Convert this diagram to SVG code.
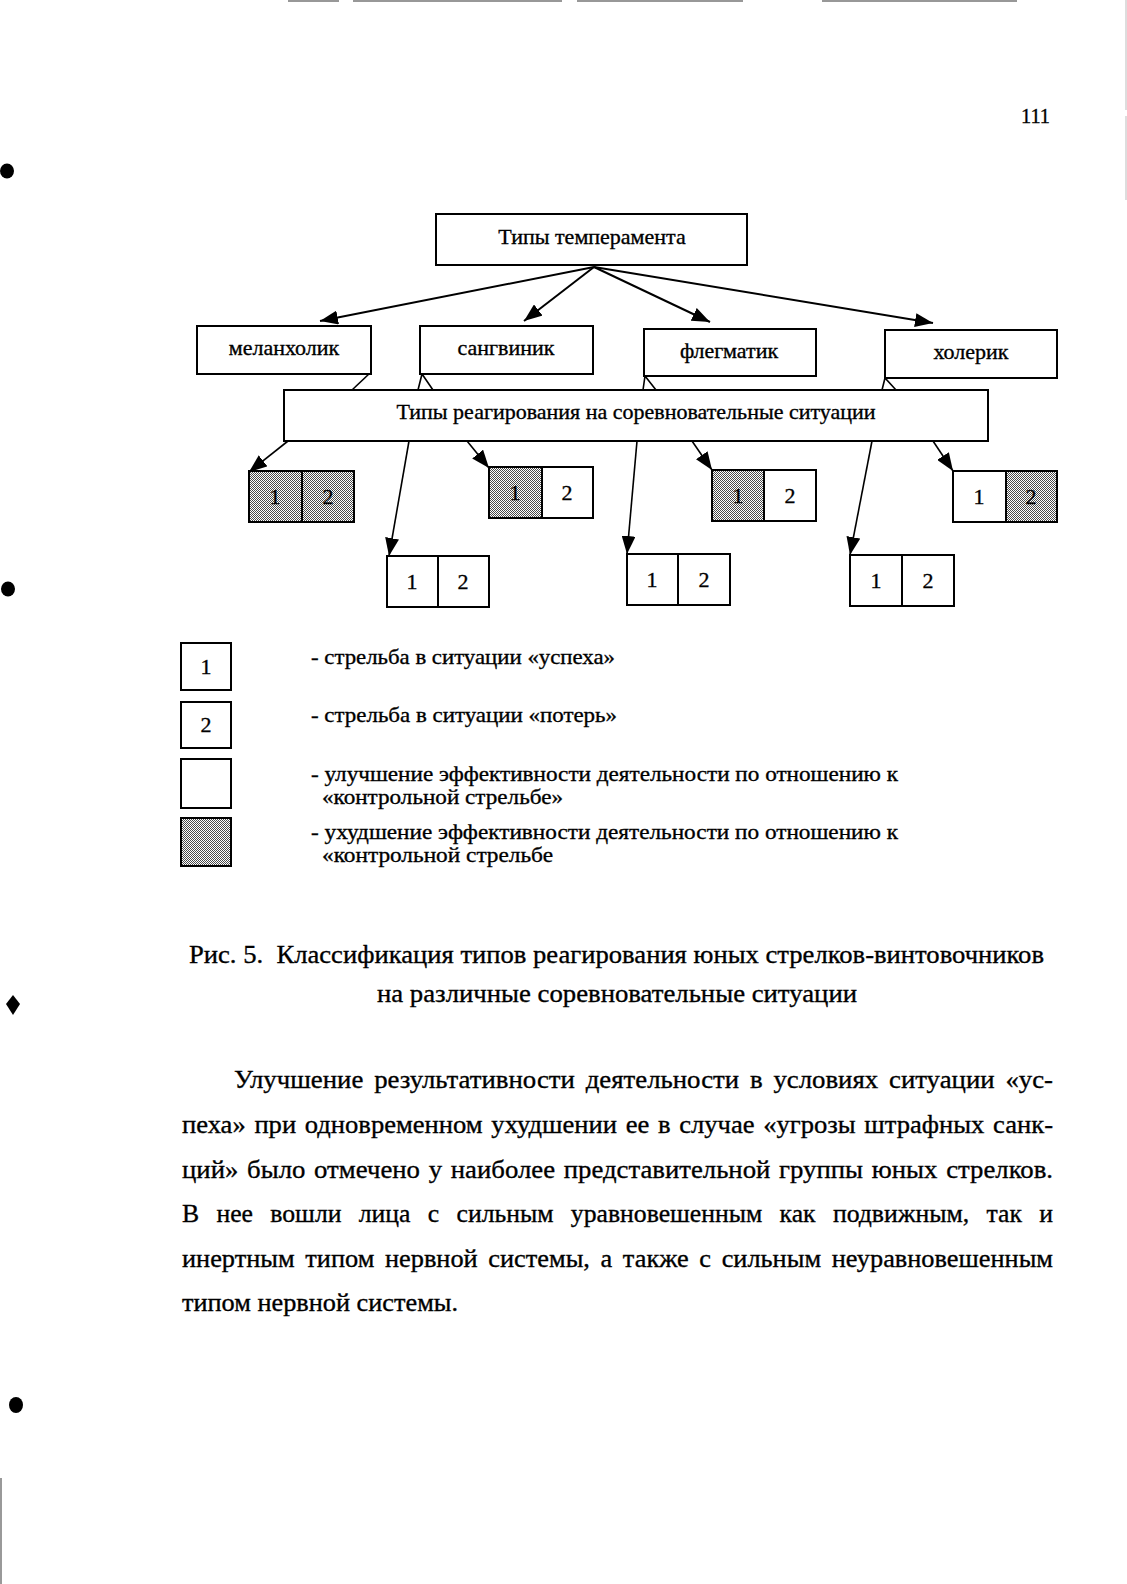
<svg xmlns="http://www.w3.org/2000/svg" width="1127" height="1584" viewBox="0 0 1127 1584">
<style>
text{font-family:"Liberation Serif","Times New Roman",serif;fill:#000;stroke:#000;stroke-width:0.35}
.lbl{font-size:22px;text-anchor:middle}
.num{font-size:22px;text-anchor:middle}
.leg{font-size:22px}
.body{font-size:26px}
.box{fill:#fff;stroke:#000;stroke-width:2}
.cell{fill:none;stroke:#000;stroke-width:2}
.shade{fill:url(#dots)}
.conn{stroke:#000;stroke-width:2;fill:none}
.thin{stroke:#000;stroke-width:1.6;fill:none}
.art{stroke:#777;stroke-width:1.5;fill:none}
</style>
<defs>
<pattern id="dots" width="2" height="2" patternUnits="userSpaceOnUse">
<rect width="2" height="2" fill="#fff"/>
<rect width="1" height="1" fill="#4a4a4a"/>
<rect x="1" y="1" width="1" height="1" fill="#4a4a4a"/>
</pattern>
<marker id="ah" viewBox="0 0 18 14" refX="18" refY="7" markerWidth="18" markerHeight="14" markerUnits="userSpaceOnUse" orient="auto">
<path d="M0,0 L18,7 L0,14 z" fill="#000"/>
</marker>
</defs>
<rect width="1127" height="1584" fill="#fff"/>

<g id="scan-artifacts">
<path class="art" d="M288,1 H339 M353,1 H562 M577,1 H743 M822,1 H1017"/>
<path d="M1126,0 V110 M1126,116 V200" stroke="#bbb" stroke-width="1" fill="none"/>
<path class="art" d="M1,1478 V1584"/>
<ellipse cx="7" cy="171" rx="7" ry="7.5" fill="#000"/>
<ellipse cx="8" cy="589" rx="7" ry="7.5" fill="#000"/>
<path d="M13,995 L20,1004 L13,1015 L6,1004 z" fill="#000"/>
<ellipse cx="16" cy="1405" rx="7" ry="8" fill="#000"/>
</g>

<g id="page-number">
<text x="1021" y="123" style="font-size:22px" textLength="29" lengthAdjust="spacingAndGlyphs">111</text>
</g>

<g id="connectors">
<line class="conn" x1="594" y1="267" x2="320" y2="321" marker-end="url(#ah)"/>
<line class="conn" x1="594" y1="267" x2="524" y2="321" marker-end="url(#ah)"/>
<line class="conn" x1="594" y1="267" x2="710" y2="322" marker-end="url(#ah)"/>
<line class="conn" x1="594" y1="267" x2="933" y2="323" marker-end="url(#ah)"/>
<polyline class="thin" points="370,373 352,390"/>
<polyline class="thin" points="418,390 422,374 433,390"/>
<polyline class="thin" points="643,390 645,376 656,390"/>
<polyline class="thin" points="882,390 885,378 896,390"/>
<line class="thin" x1="288" y1="441" x2="249" y2="472" marker-end="url(#ah)"/>
<line class="thin" x1="409" y1="441" x2="389" y2="556" marker-end="url(#ah)"/>
<line class="thin" x1="467" y1="441" x2="489" y2="468" marker-end="url(#ah)"/>
<line class="thin" x1="637" y1="441" x2="627" y2="554" marker-end="url(#ah)"/>
<line class="thin" x1="692" y1="441" x2="712" y2="470" marker-end="url(#ah)"/>
<line class="thin" x1="872" y1="441" x2="850" y2="555" marker-end="url(#ah)"/>
<line class="thin" x1="933" y1="441" x2="953" y2="471" marker-end="url(#ah)"/>
</g>

<g id="node-types">
<rect class="box" x="436" y="214" width="311" height="51"/>
<text class="lbl" x="592" y="244">Типы темперамента</text>
</g>
<g id="node-melancholic">
<rect class="box" x="197" y="326" width="174" height="48"/>
<text class="lbl" x="284" y="355">меланхолик</text>
</g>
<g id="node-sanguine">
<rect class="box" x="420" y="326" width="173" height="48"/>
<text class="lbl" x="506" y="355">сангвиник</text>
</g>
<g id="node-phlegmatic">
<rect class="box" x="644" y="329" width="172" height="47"/>
<text class="lbl" x="729" y="358">флегматик</text>
</g>
<g id="node-choleric">
<rect class="box" x="885" y="330" width="172" height="48"/>
<text class="lbl" x="971" y="359">холерик</text>
</g>
<g id="node-reactions">
<rect class="box" x="284" y="390" width="704" height="51"/>
<text class="lbl" x="636" y="419">Типы реагирования на соревновательные ситуации</text>
</g>

<g id="node-r1">
<rect class="shade" x="249" y="471" width="105" height="51"/>
<rect class="cell" x="249" y="471" width="105" height="51"/>
<line class="cell" x1="302" y1="471" x2="302" y2="522"/>
<text class="num" x="275" y="504">1</text><text class="num" x="328" y="504">2</text>
</g>
<g id="node-r2">
<rect class="shade" x="489" y="467" width="53" height="51"/>
<rect class="cell" x="489" y="467" width="104" height="51"/>
<line class="cell" x1="542" y1="467" x2="542" y2="518"/>
<text class="num" x="515" y="500">1</text><text class="num" x="567" y="500">2</text>
</g>
<g id="node-r3">
<rect class="shade" x="712" y="470" width="52" height="51"/>
<rect class="cell" x="712" y="470" width="104" height="51"/>
<line class="cell" x1="764" y1="470" x2="764" y2="521"/>
<text class="num" x="738" y="503">1</text><text class="num" x="790" y="503">2</text>
</g>
<g id="node-r4">
<rect class="shade" x="1006" y="471" width="51" height="51"/>
<rect class="cell" x="953" y="471" width="104" height="51"/>
<line class="cell" x1="1006" y1="471" x2="1006" y2="522"/>
<text class="num" x="979" y="504">1</text><text class="num" x="1031" y="504">2</text>
</g>
<g id="node-r5">
<rect class="cell" x="387" y="556" width="102" height="51"/>
<line class="cell" x1="438" y1="556" x2="438" y2="607"/>
<text class="num" x="412" y="589">1</text><text class="num" x="463" y="589">2</text>
</g>
<g id="node-r6">
<rect class="cell" x="627" y="554" width="103" height="51"/>
<line class="cell" x1="678" y1="554" x2="678" y2="605"/>
<text class="num" x="652" y="587">1</text><text class="num" x="704" y="587">2</text>
</g>
<g id="node-r7">
<rect class="cell" x="850" y="555" width="104" height="51"/>
<line class="cell" x1="902" y1="555" x2="902" y2="606"/>
<text class="num" x="876" y="588">1</text><text class="num" x="928" y="588">2</text>
</g>

<g id="legend">
<rect class="cell" x="181" y="643" width="50" height="47"/>
<text class="num" x="206" y="674">1</text>
<rect class="cell" x="181" y="702" width="50" height="46"/>
<text class="num" x="206" y="732">2</text>
<rect class="cell" x="181" y="759" width="50" height="49"/>
<rect class="shade" x="181" y="818" width="50" height="48"/>
<rect class="cell" x="181" y="818" width="50" height="48"/>
<text class="leg" x="311" y="664" textLength="304" lengthAdjust="spacingAndGlyphs">- стрельба в ситуации «успеха»</text>
<text class="leg" x="311" y="722" textLength="306" lengthAdjust="spacingAndGlyphs">- стрельба в ситуации «потерь»</text>
<text class="leg" x="311" y="781" textLength="587" lengthAdjust="spacingAndGlyphs">- улучшение эффективности деятельности по отношению к</text>
<text class="leg" x="322" y="804" textLength="241" lengthAdjust="spacingAndGlyphs">«контрольной стрельбе»</text>
<text class="leg" x="311" y="839" textLength="587" lengthAdjust="spacingAndGlyphs">- ухудшение эффективности деятельности по отношению к</text>
<text class="leg" x="322" y="862" textLength="231" lengthAdjust="spacingAndGlyphs">«контрольной стрельбе</text>
</g>

<g id="caption">
<text class="body" x="189" y="963" style="white-space:pre" textLength="855" lengthAdjust="spacingAndGlyphs">Рис. 5.  Классификация типов реагирования юных стрелков-винтовочников</text>
<text class="body" x="377" y="1002" textLength="480" lengthAdjust="spacingAndGlyphs">на различные соревновательные ситуации</text>
</g>

<g id="body-text">
<text class="body" x="234" y="1088" word-spacing="4" textLength="819" lengthAdjust="spacingAndGlyphs">Улучшение результативности деятельности в условиях ситуации «ус-</text>
<text class="body" x="182" y="1133" word-spacing="2" textLength="871" lengthAdjust="spacingAndGlyphs">пеха» при одновременном ухудшении ее в случае «угрозы штрафных санк-</text>
<text class="body" x="182" y="1178" word-spacing="2" textLength="871" lengthAdjust="spacingAndGlyphs">ций» было отмечено у наиболее представительной группы юных стрелков.</text>
<text class="body" x="182" y="1222" word-spacing="11" textLength="871" lengthAdjust="spacingAndGlyphs">В нее вошли лица с сильным уравновешенным как подвижным, так и</text>
<text class="body" x="182" y="1267" word-spacing="4" textLength="871" lengthAdjust="spacingAndGlyphs">инертным типом нервной системы, а также с сильным неуравновешенным</text>
<text class="body" x="182" y="1311" textLength="276" lengthAdjust="spacingAndGlyphs">типом нервной системы.</text>
</g>
</svg>
